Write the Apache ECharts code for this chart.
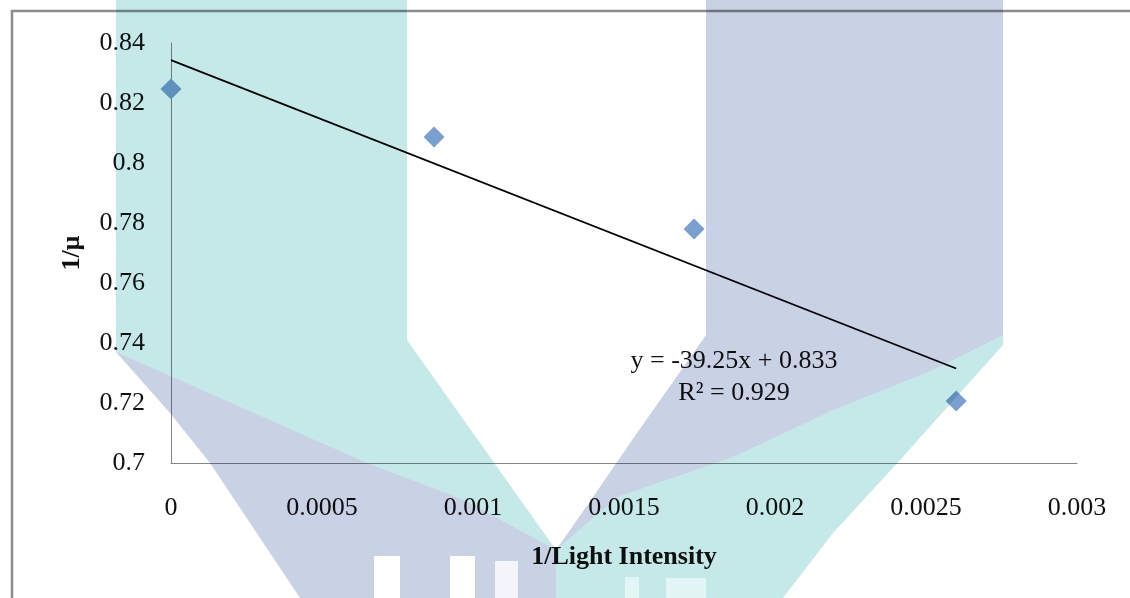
<!DOCTYPE html>
<html>
<head>
<meta charset="utf-8">
<script src="https://cdn.jsdelivr.net/npm/echarts@6/dist/echarts.min.js"></script>
<style>
  html, body { margin: 0; padding: 0; background: #ffffff; }
  #chart { width: 1130px; height: 598px; }
</style>
</head>
<body>
<div id="chart"></div>
<script>
// ---- data ----
const lightInvX = [0, 0.000871, 0.001732, 0.0026];
const muInvY = [0.8247, 0.8087, 0.778, 0.7207];
const trendX = [0, 0.0026];
const trendY = [0.8343, 0.7315];
const equationText = 'y = -39.25x + 0.833';
const r2Text = 'R² = 0.929';
const xTitle = '1/Light Intensity';
const yTitle = '1/µ';
const yMin = 0.7, yMax = 0.84, yStep = 0.02;
const xMin = 0, xMax = 0.003, xStep = 0.0005;

const serif = '"Liberation Serif", "Times New Roman", serif';
const teal = '#c4e9e8';
const lav = '#c9d1e5';

// background watermark shapes (decorative)
const wm = [
  { pts: [[116,0],[407,0],[407,340],[556,550],[464,500],[367,463],[116,352]], c: teal },
  { pts: [[116,352],[367,463],[464,500],[556,550],[556,598],[300,598],[210,463],[170,413]], c: lav },
  { pts: [[706,0],[1003,0],[1003,335],[933,370],[833,410],[733,457],[617,497],[556,550],[591,500],[637,433],[706,335]], c: lav },
  { pts: [[1003,335],[1003,345],[900,460],[833,533],[783,598],[556,598],[556,550],[617,497],[733,457],[833,410],[933,370]], c: teal }
];

const scatterData = lightInvX.map((x, i) => [x, muInvY[i]]);
const trendData = trendX.map((x, i) => [x, trendY[i]]);

const graphics = [
  { type: 'rect', z: 0, silent: true,
    shape: { x: 12, y: 11, width: 1300, height: 800 },
    style: { fill: 'none', stroke: '#8c8c8c', lineWidth: 2.5 } }
];
wm.forEach(w => graphics.push({
  type: 'polygon', z: 100, silent: true,
  shape: { points: w.pts },
  style: { fill: w.c, blend: 'multiply' }
}));
[[374,556,26,42,'#ffffff'],[450,556,25,42,'#ffffff'],[495,561,23,37,'#f4f5fa'],
 [625,577,14,21,'#e4f5f5'],[666,578,40,20,'#e4f5f5']].forEach(r => graphics.push({
  type: 'rect', z: 101, silent: true,
  shape: { x: r[0], y: r[1], width: r[2], height: r[3] },
  style: { fill: r[4] }
}));
graphics.push({
  type: 'text', z: 50, silent: true,
  style: {
    x: 734, y: 377, text: equationText + '\n' + r2Text,
    align: 'center', verticalAlign: 'middle',
    font: '26px ' + serif, lineHeight: 32, fill: '#111111'
  }
});

const chart = echarts.init(document.getElementById('chart'), null, { renderer: 'canvas' });
chart.setOption({
  animation: false,
  backgroundColor: '#ffffff',
  grid: { left: 171, right: 53, top: 43, bottom: 135, containLabel: false },
  xAxis: {
    type: 'value', min: xMin, max: xMax, interval: xStep,
    name: xTitle, nameLocation: 'middle', nameGap: 81,
    nameTextStyle: { fontFamily: serif, fontSize: 26, fontWeight: 'bold', color: '#111111' },
    axisLine: { show: true, onZero: false, lineStyle: { color: '#868686', width: 1 } },
    axisTick: { show: false },
    splitLine: { show: false },
    axisLabel: { margin: 32, fontFamily: serif, fontSize: 26, color: '#111111',
      formatter: v => String(+v.toFixed(6)) }
  },
  yAxis: {
    type: 'value', min: yMin, max: yMax, interval: yStep,
    name: yTitle, nameLocation: 'middle', nameGap: 86, nameRotate: 90,
    nameTextStyle: { fontFamily: serif, fontSize: 26, fontWeight: 'bold', color: '#111111' },
    axisLine: { show: true, onZero: false, lineStyle: { color: '#868686', width: 1 } },
    axisTick: { show: false },
    splitLine: { show: false },
    axisLabel: { margin: 26, fontFamily: serif, fontSize: 26, color: '#111111',
      formatter: v => String(+v.toFixed(4)) }
  },
  graphic: graphics,
  series: [
    {
      type: 'line', data: trendData, showSymbol: false, symbol: 'none',
      lineStyle: { color: '#000000', width: 1.8 }, z: 3, silent: true
    },
    {
      type: 'scatter', data: scatterData, symbol: 'diamond', symbolSize: [21, 21],
      itemStyle: { color: '#7a9fd1', opacity: 1 }, z: 4
    }
  ]
});
</script>
</body>
</html>
